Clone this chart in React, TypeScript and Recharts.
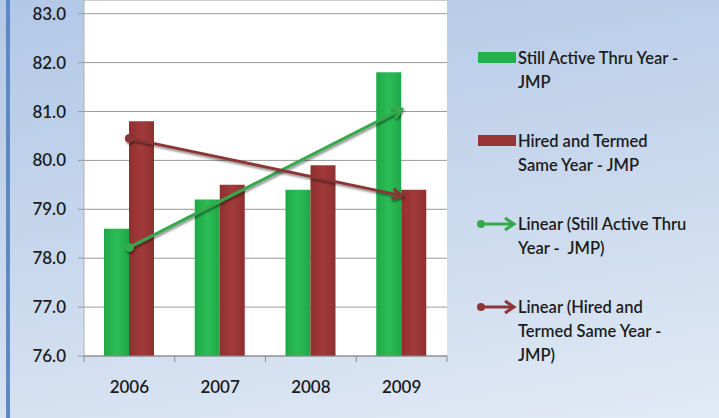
import React from 'react';
import { Bar, CartesianGrid, ComposedChart, Legend, Line, XAxis, YAxis } from 'recharts';

const years = ['2006', '2007', '2008', '2009'];
const stillActive = [78.6, 79.2, 79.4, 81.8];
const hiredTermed = [80.8, 79.5, 79.9, 79.4];
// trendline end points
const trendActive = [78.22, null, null, 81.05];
const trendHired = [80.45, null, null, 79.28];
const yTicks = [76, 77, 78, 79, 80, 81, 82, 83];

const data = years.map((year, i) => ({
  year,
  stillActive: stillActive[i],
  hiredTermed: hiredTermed[i],
  trendActive: trendActive[i],
  trendHired: trendHired[i],
}));

const GREEN = '#22b14c';
const RED = '#983434';
const TREND_GREEN = '#36a84c';
const TREND_RED = '#8c3636';
const FONT = 'Lato, "Open Sans", sans-serif';
const TEXT = '#1c1c1c';

const legendItems = [
  { kind: 'bar', color: GREEN, lines: ['Still Active Thru Year -', 'JMP'] },
  { kind: 'bar', color: RED, lines: ['Hired and Termed', 'Same Year - JMP'] },
  { kind: 'trend', color: TREND_GREEN, lines: ['Linear (Still Active Thru', 'Year -  JMP)'] },
  { kind: 'trend', color: TREND_RED, lines: ['Linear (Hired and', 'Termed Same Year -', 'JMP)'] },
];

function LegendBox() {
  return (
    <div style={{ fontFamily: FONT, fontSize: 16.5, fontWeight: 600, color: TEXT, lineHeight: '24px' }}>
      {legendItems.map((item, i) => (
        <div key={i} style={{ display: 'flex', alignItems: 'flex-start', marginBottom: 35 }}>
          <svg width={42} height={24} style={{ flex: 'none' }}>
            {item.kind === 'bar' ? (
              <rect x={2} y={6} width={38} height={11} fill={item.color} />
            ) : (
              <g>
                <line x1={5} y1={12} x2={37} y2={12} stroke={item.color} strokeWidth={3} />
                <circle cx={5} cy={12} r={4} fill={item.color} />
                <path d="M29,6 L38,12 L29,18" fill="none" stroke={item.color} strokeWidth={3} />
              </g>
            )}
          </svg>
          <div style={{ whiteSpace: 'pre' }}>
            {item.lines.map((l, j) => (
              <div key={j}>{l}</div>
            ))}
          </div>
        </div>
      ))}
    </div>
  );
}

const TICK_SIZE = 6;
const TICK_MARGIN = 18;

function YearTick(props: any) {
  const { x, y, payload } = props;
  const half = payload && payload.offset ? payload.offset : 45.5;
  const axisY = y - TICK_SIZE - TICK_MARGIN;
  return (
    <g>
      <line x1={x - half} y1={axisY} x2={x - half} y2={axisY + TICK_SIZE} stroke="#8a8a8a" />
      {payload.index === years.length - 1 && (
        <line x1={x + half} y1={axisY} x2={x + half} y2={axisY + TICK_SIZE} stroke="#8a8a8a" />
      )}
      <text x={x} y={y + 13} textAnchor="middle" fill={TEXT} fontSize={17} fontWeight={600} fontFamily={FONT}>
        {payload.value}
      </text>
    </g>
  );
}

export default function App() {
  return (
    <div
      style={{
        position: 'fixed',
        left: 0,
        top: 0,
        width: 719,
        height: 418,
        background: 'linear-gradient(170deg, #b2c8e7 0%, #c6d6ec 45%, #e2eaf5 100%)',
        overflow: 'hidden',
      }}
    >
      <div style={{ position: 'absolute', left: 6, top: 0, width: 4, height: 418, background: '#5f89c4' }} />
      <ComposedChart
        width={719}
        height={418}
        data={data}
        margin={{ top: 0, right: 272, bottom: 0, left: 0 }}
        barCategoryGap={20}
        barGap={0}
      >
        <defs>
          <linearGradient id="gGreen" x1="0" y1="0" x2="1" y2="0">
            <stop offset="0%" stopColor="#1fa847" />
            <stop offset="50%" stopColor="#2bbd55" />
            <stop offset="100%" stopColor="#1fa847" />
          </linearGradient>
          <linearGradient id="gRed" x1="0" y1="0" x2="1" y2="0">
            <stop offset="0%" stopColor="#8f2f2f" />
            <stop offset="50%" stopColor="#a23b3b" />
            <stop offset="100%" stopColor="#8f2f2f" />
          </linearGradient>
          <filter id="shadow" x="-10%" y="-30%" width="130%" height="160%">
            <feDropShadow dx="1" dy="2" stdDeviation="1.2" floodColor="#000" floodOpacity="0.45" />
          </filter>
          <marker id="arrowGreen" viewBox="0 0 12 12" refX="10" refY="6" markerWidth="14" markerHeight="14" markerUnits="userSpaceOnUse" orient="auto">
            <path d="M2,1.5 L10,6 L2,10.5" fill="none" stroke={TREND_GREEN} strokeWidth="2.6" />
          </marker>
          <marker id="arrowRed" viewBox="0 0 12 12" refX="10" refY="6" markerWidth="14" markerHeight="14" markerUnits="userSpaceOnUse" orient="auto">
            <path d="M2,1.5 L10,6 L2,10.5" fill="none" stroke={TREND_RED} strokeWidth="2.6" />
          </marker>
          <marker id="dotGreen" viewBox="0 0 10 10" refX="5" refY="5" markerWidth="10" markerHeight="10" markerUnits="userSpaceOnUse">
            <circle cx="5" cy="5" r="4.5" fill={TREND_GREEN} />
          </marker>
          <marker id="dotRed" viewBox="0 0 10 10" refX="5" refY="5" markerWidth="10" markerHeight="10" markerUnits="userSpaceOnUse">
            <circle cx="5" cy="5" r="4.5" fill={TREND_RED} />
          </marker>
        </defs>
        <CartesianGrid vertical={false} fill="#ffffff" stroke="#9a9a9a" />
        <XAxis
          dataKey="year"
          height={62}
          axisLine={{ stroke: '#8a8a8a' }}
          tickLine={false}
          tickSize={TICK_SIZE}
          tickMargin={TICK_MARGIN}
          tick={<YearTick />}
          interval={0}
        />
        <YAxis
          width={84}
          domain={[76, 83.28]}
          ticks={yTicks}
          allowDataOverflow
          tickFormatter={(v: number) => v.toFixed(1)}
          axisLine={{ stroke: '#b0b0b0' }}
          tickLine={{ stroke: '#9a9a9a' }}
          tickSize={6}
          tickMargin={12}
          tick={{ fill: TEXT, fontSize: 17, fontWeight: 600, fontFamily: FONT }}
        />
        <Legend
          layout="horizontal"
          verticalAlign="middle"
          align="center"
          wrapperStyle={{ left: 476, top: 46, width: 243 }}
          content={() => <LegendBox />}
        />
        <Bar dataKey="stillActive" fill="url(#gGreen)" isAnimationActive={false} />
        <Bar dataKey="hiredTermed" fill="url(#gRed)" isAnimationActive={false} />
        <Line
          dataKey="trendActive"
          connectNulls
          stroke={TREND_GREEN}
          strokeWidth={3}
          dot={false}
          activeDot={false}
          filter="url(#shadow)"
          markerStart="url(#dotGreen)"
          markerEnd="url(#arrowGreen)"
          isAnimationActive={false}
        />
        <Line
          dataKey="trendHired"
          connectNulls
          stroke={TREND_RED}
          strokeWidth={3}
          dot={false}
          activeDot={false}
          filter="url(#shadow)"
          markerStart="url(#dotRed)"
          markerEnd="url(#arrowRed)"
          isAnimationActive={false}
        />
      </ComposedChart>
    </div>
  );
}
